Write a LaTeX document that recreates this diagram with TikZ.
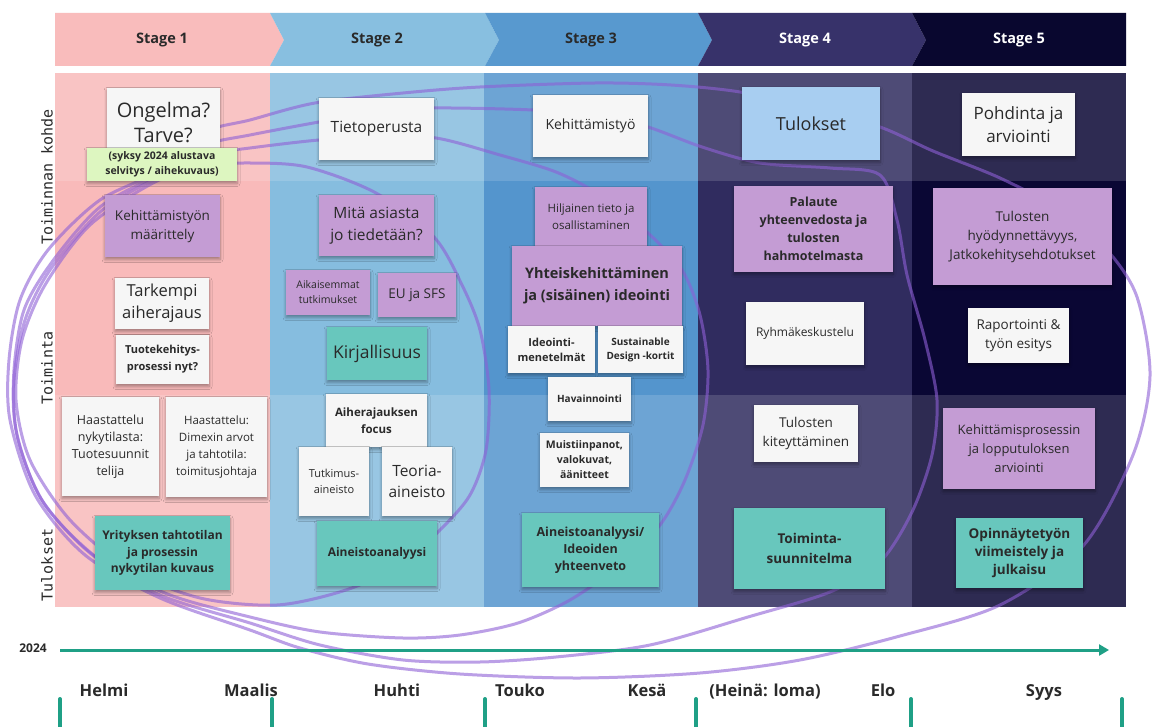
\documentclass[tikz,border=0pt]{standalone}
\usepackage{fontspec}
\setmainfont{Open Sans}
\newfontfamily\rowfont{DejaVu Sans Mono}
\usetikzlibrary{arrows.meta,shadows.blur}

\definecolor{ink}{HTML}{2A2A2A}
\definecolor{hdrA}{HTML}{F9BCBC}
\definecolor{hdrB}{HTML}{88BFE0}
\definecolor{hdrC}{HTML}{5899CF}
\definecolor{hdrD}{HTML}{37326A}
\definecolor{hdrE}{HTML}{09072F}
\definecolor{colA}{HTML}{F9BABA}
\definecolor{colB}{HTML}{86BDDF}
\definecolor{colC}{HTML}{5495CD}
\definecolor{colD}{HTML}{302C5F}
\definecolor{colE}{HTML}{0A0734}
\definecolor{notewhite}{HTML}{F6F6F6}
\definecolor{notepurple}{HTML}{C49CD4}
\definecolor{noteteal}{HTML}{68C7BD}
\definecolor{notegreen}{HTML}{DDF6C0}
\definecolor{noteblue}{HTML}{A8CEF1}
\definecolor{loopc}{HTML}{8E5FD6}
\definecolor{teal}{HTML}{1FA086}

\newcommand\fs[2]{\fontsize{#1}{#2}\selectfont}
% sticky note: style, x1, y1, x2, y2, name, text
\newcommand\stickynote[7]{%
  \node[#1, minimum width={(#4-#2)*1pt}, minimum height={(#5-#3)*1pt}]
    (#6) at ({(#2+#4)/2},{(#3+#5)/2}) {#7};}

\tikzset{
  note/.style={rectangle, inner sep=0pt, align=center, text=ink,
    blur shadow={shadow xshift=0pt, shadow yshift=-2.5pt,
      shadow blur radius=3pt, shadow opacity=35, shadow blur steps=6}},
  wnote/.style={note, fill=notewhite},
  pnote/.style={note, fill=notepurple},
  tnote/.style={note, fill=noteteal},
  gnote/.style={note, fill=notegreen},
  bnote/.style={note, fill=noteblue},
  cycleloop/.style={draw=loopc, draw opacity=0.6, line width=3pt},
  stagelbl/.style={font=\bfseries\fs{14.5}{17}},
  rowlbl/.style={rotate=90, font=\rowfont\fs{15}{18}, text=ink},
  month/.style={font=\bfseries\fs{16.5}{20}, text=ink, anchor=base},
  tline/.style={draw=teal, line width=3pt, -{Triangle[length=10pt,width=11pt]}},
  tick/.style={draw=teal, line width=4pt, line cap=round},
}

\begin{document}
\begin{tikzpicture}[x=1pt,y=-1pt]
\useasboundingbox (0,0) rectangle (1154,727);
\fill[white] (0,0) rectangle (1154,727);

% ---- stage header chevrons
\fill[hdrA] (55,13) -- (270,13) -- (284,40) -- (270,66) -- (55,66) -- cycle;
\fill[hdrB] (270,13) -- (485,13) -- (499,40) -- (485,66) -- (270,66) -- (284,40) -- cycle;
\fill[hdrC] (485,13) -- (698,13) -- (712,40) -- (698,66) -- (485,66) -- (499,40) -- cycle;
\fill[hdrD] (698,13) -- (912,13) -- (926,40) -- (912,66) -- (698,66) -- (712,40) -- cycle;
\fill[hdrE] (912,13) -- (1126,13) -- (1126,66) -- (912,66) -- (926,40) -- cycle;
\node[stagelbl, text=ink] (st1) at (162,40) {Stage 1};
\node[stagelbl, text=ink] (st2) at (377,40) {Stage 2};
\node[stagelbl, text=ink] (st3) at (591,40) {Stage 3};
\node[stagelbl, text=white] (st4) at (805,40) {Stage 4};
\node[stagelbl, text=white] (st5) at (1019,40) {Stage 5};

% ---- panel columns
\fill[colA] (55,73) rectangle (270,607);
\fill[colB] (270,73) rectangle (484,607);
\fill[colC] (484,73) rectangle (698,607);
\fill[colD] (698,73) rectangle (912,607);
\fill[colE] (912,73) rectangle (1126,607);
% lighter top and bottom rows
\fill[white, opacity=0.15] (55,73) rectangle (1126,181);
\fill[white, opacity=0.15] (55,395) rectangle (1126,607);

% ---- row titles
\node[rowlbl] (r1) at (47,177) {Toiminnan kohde};
\node[rowlbl] (r2) at (47,368) {Toiminta};
\node[rowlbl] (r3) at (47,565) {Tulokset};

% ---- iteration loops
\draw[cycleloop] plot[smooth cycle] coordinates {(157,181) (210,166) (250,163)
  (307,167) (376,193) (434,237) (462,285) (480,330) (489,390) (486,450)
  (470,495) (440,530) (400,565) (346,590) (277,605) (200,598) (130,570)
  (70,520) (30,460) (16,400) (22,340) (45,285) (90,225)};
\draw[cycleloop] plot[smooth cycle] coordinates {(160,176) (205,155) (250,148)
  (319,140) (380,137) (436,138) (500,155) (556,172) (600,195) (648,233)
  (682,270) (700,315) (708,370) (703,425) (685,480) (660,525) (620,565)
  (570,600) (518,623) (460,635) (403,638) (320,632) (250,617) (170,595)
  (100,560) (45,505) (18,440) (14,380) (25,320) (50,270) (100,212)};
\draw[cycleloop] plot[smooth cycle] coordinates {(163,172) (205,145) (250,135)
  (319,122) (380,112) (434,108) (533,110) (600,116) (648,127) (702,147)
  (760,163) (830,168) (880,175) (897,220) (907,275) (925,340) (937,400)
  (932,455) (912,512) (880,562) (830,592) (748,617) (650,645) (556,657)
  (480,662) (403,660) (320,645) (250,623) (160,595) (90,553) (40,497)
  (16,430) (14,370) (24,310) (52,262) (100,207)};
\draw[cycleloop] plot[smooth cycle] coordinates {(166,168) (205,132) (250,120)
  (315,103) (403,93) (480,87) (595,83) (671,85) (740,92) (810,108) (880,127)
  (933,151) (1000,178) (1060,210) (1107,250) (1137,297) (1150,376)
  (1133,455) (1083,546) (1000,605) (900,636) (800,660) (700,673) (580,678)
  (460,674) (368,664) (300,648) (250,630) (160,598) (85,555) (35,495)
  (10,420) (9,360) (20,300) (48,250) (100,200)};

% ---- Stage 1
\stickynote{wnote,font=\fs{20}{25}}{107}{88}{220}{157}{n11}{Ongelma?\\Tarve?}
\stickynote{gnote,font=\bfseries\fs{10.5}{15}}{87}{148}{237}{181}{n12}{(syksy 2024 alustava\\selvitys / aihekuvaus)}
\stickynote{pnote,font=\fs{13.5}{19}}{105}{195}{220}{257}{n13}{Kehittämistyön\\määrittely}
\stickynote{wnote,font=\fs{16.5}{22}}{115}{278}{209}{329}{n14}{Tarkempi\\aiherajaus}
\stickynote{wnote,font=\bfseries\fs{11}{17}}{116}{335}{209}{384}{n15}{Tuotekehitys-\\prosessi nyt?}
\stickynote{wnote,font=\fs{12.5}{17}}{62}{397}{159}{496}{n16}{Haastattelu\\nykytilasta:\\Tuotesuunnit\\telija}
\stickynote{wnote,font=\fs{11.5}{17}}{166}{397}{267}{497}{n17}{Haastattelu:\\Dimexin arvot\\ja tahtotila:\\toimitusjohtaja}
\stickynote{tnote,font=\bfseries\fs{12}{16.5}}{95}{516}{230}{590}{n18}{Yrityksen tahtotilan\\ja prosessin\\nykytilan kuvaus}

% ---- Stage 2
\stickynote{wnote,font=\fs{15.5}{20}}{319}{98}{434}{160}{n21}{Tietoperusta}
\stickynote{pnote,font=\fs{15.5}{22}}{319}{195}{434}{256}{n22}{Mitä asiasta\\jo tiedetään?}
\stickynote{pnote,font=\fs{10.5}{15}}{286}{270}{370}{315}{n23}{Aikaisemmat\\tutkimukset}
\stickynote{pnote,font=\fs{13.5}{17}}{378}{273}{456}{317}{n24}{EU ja SFS}
\stickynote{tnote,font=\fs{17.5}{22}}{327}{327}{427}{380}{n25}{Kirjallisuus}
\stickynote{wnote,font=\bfseries\fs{11.5}{17}}{326}{394}{427}{447}{n26}{Aiherajauksen\\focus}
\stickynote{wnote,font=\fs{11}{16}}{299}{447}{369}{516}{n27}{Tutkimus-\\aineisto}
\stickynote{wnote,font=\fs{15.5}{21}}{382}{447}{452}{516}{n28}{Teoria-\\aineisto}
\stickynote{tnote,font=\bfseries\fs{12}{16}}{317}{521}{437}{586}{n29}{Aineistoanalyysi}

% ---- Stage 3
\stickynote{wnote,font=\fs{14}{18}}{533}{95}{648}{157}{n31}{Kehittämistyö}
\stickynote{pnote,font=\fs{11.5}{17}}{535}{187}{647}{246}{n32}{Hiljainen tieto ja\\osallistaminen}
\stickynote{pnote,font=\bfseries\fs{14.5}{22}}{512}{246}{682}{326}{n33}{Yhteiskehittäminen\\ja (sisäinen) ideointi}
\stickynote{wnote,font=\bfseries\fs{11}{15}}{508}{326}{595}{373}{n34}{Ideointi-\\menetelmät}
\stickynote{wnote,font=\bfseries\fs{10}{14}}{598}{326}{683}{373}{n35}{Sustainable\\Design -kortit}
\stickynote{wnote,font=\bfseries\fs{10}{14}}{548}{377}{631}{421}{n36}{Havainnointi}
\stickynote{wnote,font=\bfseries\fs{10.5}{15}}{540}{433}{629}{487}{n37}{Muistiinpanot,\\valokuvat,\\äänitteet}
\stickynote{tnote,font=\bfseries\fs{12.5}{17}}{522}{513}{659}{587}{n38}{Aineistoanalyysi/\\Ideoiden\\yhteenveto}

% ---- Stage 4
\stickynote{bnote,font=\fs{18}{22}}{742}{87}{880}{160}{n41}{Tulokset}
\stickynote{pnote,font=\bfseries\fs{12.5}{18}}{734}{186}{893}{272}{n42}{Palaute\\yhteenvedosta ja\\tulosten\\hahmotelmasta}
\stickynote{wnote,font=\fs{12}{16}}{746}{302}{864}{365}{n43}{Ryhmäkeskustelu}
\stickynote{wnote,font=\fs{13.5}{19}}{754}{405}{858}{462}{n44}{Tulosten\\kiteyttäminen}
\stickynote{tnote,font=\bfseries\fs{13.5}{20}}{734}{508}{885}{589}{n45}{Toiminta-\\suunnitelma}

% ---- Stage 5
\stickynote{wnote,font=\fs{17}{23}}{962}{93}{1075}{156}{n51}{Pohdinta ja\\arviointi}
\stickynote{pnote,font=\fs{13.5}{19}}{933}{188}{1112}{285}{n52}{Tulosten\\hyödynnettävyys,\\Jatkokehitysehdotukset}
\stickynote{wnote,font=\fs{13.5}{19}}{968}{308}{1069}{363}{n53}{Raportointi \&\\työn esitys}
\stickynote{pnote,font=\fs{13}{19}}{943}{408}{1095}{489}{n54}{Kehittämisprosessin\\ja lopputuloksen\\arviointi}
\stickynote{tnote,font=\bfseries\fs{13.5}{18}}{956}{518}{1083}{588}{n55}{Opinnäytetyön\\viimeistely ja\\julkaisu}

% ---- timeline
\node[font=\bfseries\fs{12}{14}, text=ink] (year) at (33,648) {2024};
\coordinate (tlstart) at (60,650);
\coordinate (tlend) at (1109,650);
\draw[tline] (tlstart) -- (tlend);

\node[month] (m1) at (104,696) {Helmi};
\node[month] (m2) at (251,696) {Maalis};
\node[month] (m3) at (397,696) {Huhti};
\node[month] (m4) at (520,696) {Touko};
\node[month] (m5) at (647,696) {Kesä};
\node[month] (m6) at (765,696) {(Heinä: loma)};
\node[month] (m7) at (883,696) {Elo};
\node[month] (m8) at (1044,696) {Syys};

\foreach \tx [count=\i] in {60,272,485,696,911,1122}{
  \coordinate (tk\i a) at (\tx,699);
  \coordinate (tk\i b) at (\tx,735);
  \draw[tick] (tk\i a) -- (tk\i b);
}
\end{tikzpicture}
\end{document}
